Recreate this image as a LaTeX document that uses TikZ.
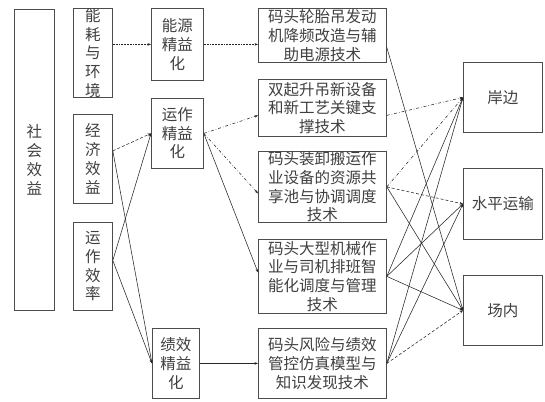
\documentclass[tikz,border=0pt]{standalone}
\usepackage{fontspec}
\newfontfamily\cjk{Noto Sans CJK SC}
\usetikzlibrary{arrows.meta,calc}
\begin{document}
\begin{tikzpicture}[x=1pt,y=-1pt,
  box/.style={draw=black!70, line width=0.8pt, inner sep=0pt, align=center, anchor=north west,
    text=black!75, font=\cjk\fontsize{15.5}{18.7}\selectfont},
  conn/.style={line width=0.55pt, black!85, -{Stealth[length=3.5pt,width=2.6pt]}},
]
\useasboundingbox (0,0) rectangle (545,401);
\fill[white] (0,0) rectangle (545,401);
% left columns
\node[box, minimum width=40pt, minimum height=301pt] (soc) at (14,9) {社\\会\\效\\益};
\node[box, minimum width=39pt, minimum height=89pt] (env) at (73,8) {能\\耗\\与\\环\\境};
\node[box, minimum width=39pt, minimum height=89pt] (eco) at (73,114) {经\\济\\效\\益};
\node[box, minimum width=39pt, minimum height=88pt] (eff) at (73,222) {运\\作\\效\\率};
% middle column
\node[box, minimum width=52pt, minimum height=72pt] (m1) at (151,8) {能源\\精益\\化};
\node[box, minimum width=52pt, minimum height=70pt] (m2) at (151,98) {运作\\精益\\化};
\node[box, minimum width=47pt, minimum height=70pt] (m3) at (152,328) {绩效\\精益\\化};
% technology column
\node[box, minimum width=128pt, minimum height=54pt] (t1) at (258,8) {码头轮胎吊发动\\机降频改造与辅\\助电源技术};
\node[box, minimum width=128pt, minimum height=57pt] (t2) at (258,79) {双起升吊新设备\\和新工艺关键支\\撑技术};
\node[box, minimum width=128pt, minimum height=71pt] (t3) at (258,151) {码头装卸搬运作\\业设备的资源共\\享池与协调调度\\技术};
\node[box, minimum width=128pt, minimum height=74pt] (t4) at (258,239) {码头大型机械作\\业与司机排班智\\能化调度与管理\\技术};
\node[box, minimum width=128pt, minimum height=70pt] (t5) at (258,328) {码头风险与绩效\\管控仿真模型与\\知识发现技术};
% right column
\node[box, minimum width=79pt, minimum height=70pt] (r1) at (463,62) {岸边};
\node[box, minimum width=79pt, minimum height=71pt] (r2) at (463,168) {水平运输};
\node[box, minimum width=79pt, minimum height=70pt] (r3) at (463,275) {场内};
% connection points
\coordinate (ecoP) at ($(eco.east)+(0,-8)$);
\coordinate (effP) at ($(eff.east)+(0,-6)$);
\coordinate (t2L) at ($(t2.west)+(0,7.5)$);
\coordinate (t3L) at ($(t3.west)+(0,6.5)$);
\coordinate (t4L) at ($(t4.west)+(0,-4)$);
\coordinate (t1R) at ($(t1.east)+(0,12)$);
\coordinate (t2R) at ($(t2.east)+(0,7.5)$);
% connectors left part
\draw[conn, densely dotted] (env.east |- m1.west) -- (m1.west);
\draw[conn, densely dotted] (m1.east) -- (m1.east -| t1.west);
\draw[conn, densely dashed] (ecoP) -- (m2.west);
\draw[conn] (ecoP) -- (m3.west);
\draw[conn] (effP) -- (m2.west);
\draw[conn] (effP) -- (m3.west);
\draw[conn, dash dot] (m2.east) -- (t2L);
\draw[conn, dash dot] (m2.east) -- (t3L);
\draw[conn] (m2.east) -- (t4L);
\draw[conn] (m3.east) -- (m3.east -| t5.west);
% connectors right part
\draw[conn] (t1R) -- (r3.west);
\draw[conn, dash dot] (t2R) -- (r1.west);
\draw[conn, dash dot] (t3.east) -- (r1.west);
\draw[conn, densely dashed] (t3.east) -- (r2.west);
\draw[conn] (t3.east) -- (r3.west);
\draw[conn] (t4.east) -- (r1.west);
\draw[conn] (t4.east) -- (r2.west);
\draw[conn] (t4.east) -- (r3.west);
\draw[conn] (t5.east) -- (r1.west);
\draw[conn] (t5.east) -- (r2.west);
\draw[conn, densely dashed] (t5.east) -- (r3.west);
\end{tikzpicture}
\end{document}
